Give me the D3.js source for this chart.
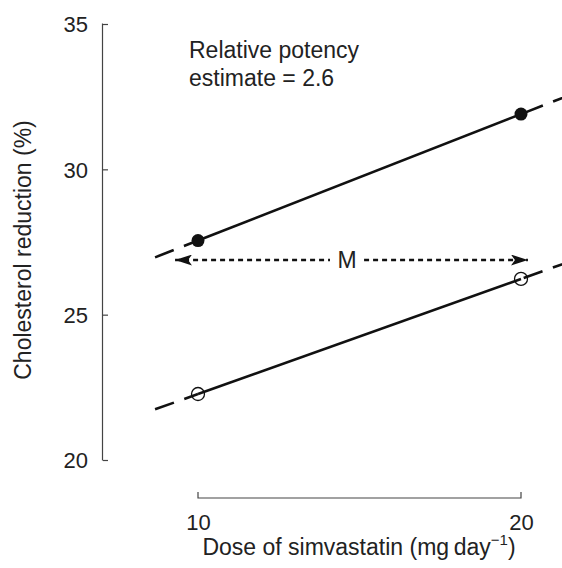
<!DOCTYPE html>
<html><head><meta charset="utf-8">
<script src="https://cdn.jsdelivr.net/npm/d3@7"></script>
<style>body{margin:0;background:#fff}svg{display:block}text{font-family:"Liberation Sans",Arial,sans-serif;fill:#222}</style>
</head><body>
<script>
// data
const doses = [10, 20];
const filledSeries = [27.55, 31.9];   // filled circles
const openSeries = [22.27, 26.23];    // open circles
const yTicks = [20, 25, 30, 35];
const xTicks = [10, 20];
const extendDoses = [9.12, 22.3];     // dashed extrapolation range
const arrowDoses = [9.52, 20.3];      // M arrow extent
const arrowLevel = 26.88;

const W = 562, H = 568;
const svg = d3.select("body").append("svg").attr("width", W).attr("height", H);

const x = d3.scaleLog().domain([10, 20]).range([198, 521]);
const y = d3.scaleLinear().domain([20, 35]).range([460, 24]);
const FONT = "Liberation Sans, Arial, sans-serif";

// y axis
const yAxis = d3.axisLeft(y).tickValues(yTicks).tickSize(-5).tickPadding(15).tickFormat(d3.format("d"));
const ga = svg.append("g").attr("transform", "translate(103,0)").call(yAxis);
ga.select(".domain").attr("stroke", "#444").attr("stroke-width", 1.2).attr("d", `M0,${y(20)}H-0.5V${y(35)}H0`);
ga.selectAll(".tick line").attr("stroke", "#444").attr("stroke-width", 1.2);
ga.selectAll(".tick text").attr("font-size", 22).attr("fill", "#222").attr("font-family", FONT).attr("dy", "0.36em");

// x axis bracket
const xAxis = d3.axisBottom(x).tickValues(xTicks).tickSize(-6).tickPadding(16).tickFormat(d3.format("d"));
const gx = svg.append("g").attr("transform", "translate(0,498)").call(xAxis);
gx.select(".domain").attr("stroke", "#444").attr("stroke-width", 1.2).attr("d", `M${x(10)},-6V0H${x(20)}V-6`);
gx.selectAll(".tick line").remove();
gx.selectAll(".tick text").attr("font-size", 22).attr("fill", "#222").attr("font-family", FONT);

// axis titles
svg.append("text").attr("transform", `translate(31,250) rotate(-90)`).attr("text-anchor", "middle")
  .attr("font-size", 23).text("Cholesterol reduction (%)");
const xt = svg.append("text").attr("x", 359).attr("y", 555).attr("text-anchor", "middle").attr("font-size", 23);
xt.append("tspan").text("Dose of simvastatin (mg\u2009day");
xt.append("tspan").attr("font-size", 15).attr("dy", -10).text("\u22121");
xt.append("tspan").attr("dy", 10).text(")");

// annotation
svg.append("text").attr("x", 189).attr("y", 58).attr("font-size", 23).text("Relative potency");
svg.append("text").attr("x", 189).attr("y", 86).attr("font-size", 23).text("estimate = 2.6");

// lines
function drawSeries(vals) {
  const slope = (vals[1] - vals[0]) / (Math.log(doses[1]) - Math.log(doses[0]));
  const f = d => vals[0] + slope * (Math.log(d) - Math.log(doses[0]));
  // dashed extensions, drawn from the far end toward the data point
  [[extendDoses[0], doses[0]], [extendDoses[1], doses[1]]].forEach(([a, b]) => {
    svg.append("line").attr("x1", x(a)).attr("y1", y(f(a))).attr("x2", x(b)).attr("y2", y(f(b)))
      .attr("stroke", "#111").attr("stroke-width", 2.6).attr("stroke-dasharray", "20,11");
  });
  svg.append("line").attr("x1", x(doses[0])).attr("y1", y(vals[0])).attr("x2", x(doses[1])).attr("y2", y(vals[1]))
    .attr("stroke", "#111").attr("stroke-width", 2.6);
}
drawSeries(filledSeries);
drawSeries(openSeries);

// points
svg.selectAll(".pf").data(doses).enter().append("circle")
  .attr("cx", d => x(d)).attr("cy", (d, i) => y(filledSeries[i])).attr("r", 6.5).attr("fill", "#111");
svg.selectAll(".po").data(doses).enter().append("circle")
  .attr("cx", d => x(d)).attr("cy", (d, i) => y(openSeries[i])).attr("r", 6.5).attr("fill", "none")
  .attr("stroke", "#111").attr("stroke-width", 1.3);

// M arrow
const defs = svg.append("defs");
defs.append("marker").attr("id", "ah").attr("viewBox", "0 0 17 11").attr("refX", 17).attr("refY", 5.5)
  .attr("markerWidth", 17).attr("markerHeight", 11).attr("markerUnits", "userSpaceOnUse").attr("orient", "auto-start-reverse")
  .append("path").attr("d", "M0,0L17,5.5L0,11L4,5.5Z").attr("fill", "#111");
const ay = y(arrowLevel);
svg.append("line").attr("x1", x(arrowDoses[0])).attr("y1", ay).attr("x2", x(arrowDoses[1])).attr("y2", ay)
  .attr("stroke", "#111").attr("stroke-width", 2.6).attr("stroke-dasharray", "5,4")
  .attr("marker-start", "url(#ah)").attr("marker-end", "url(#ah)");
svg.append("rect").attr("x", 330).attr("y", ay - 13).attr("width", 34).attr("height", 26).attr("fill", "#fff");
svg.append("text").attr("x", 347).attr("y", ay + 8).attr("text-anchor", "middle").attr("font-size", 23).text("M");
</script>
</body></html>
